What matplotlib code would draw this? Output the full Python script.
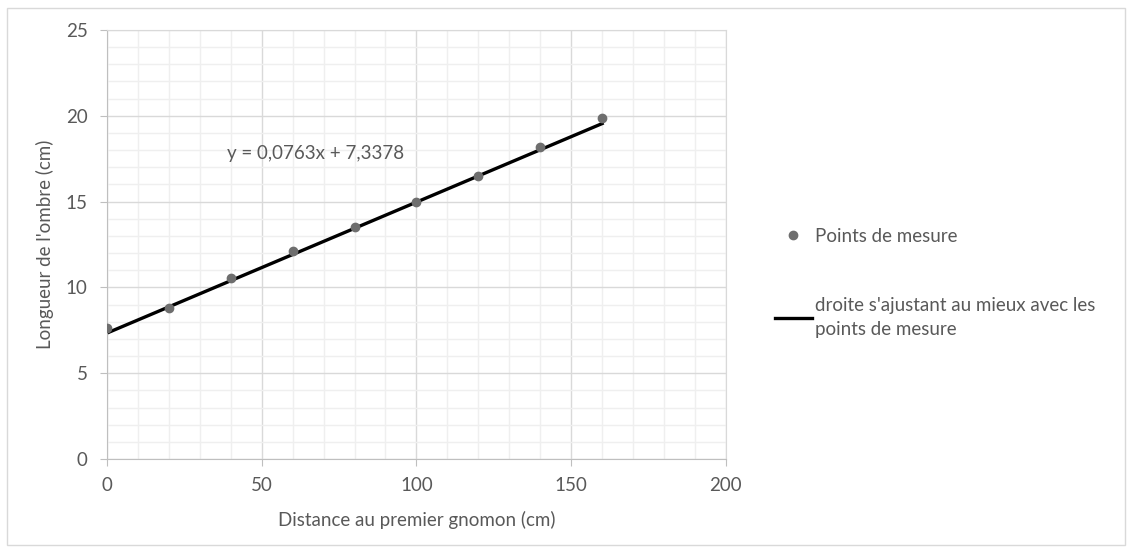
import numpy as np
import matplotlib.pyplot as plt
from matplotlib.patches import Rectangle
from matplotlib.ticker import MultipleLocator

plt.rcParams['font.family'] = ['Lato', 'DejaVu Sans']

# measurements
distance = [0, 20, 40, 60, 80, 100, 120, 140, 160]
ombre = [7.65, 8.82, 10.53, 12.14, 13.5, 15.0, 16.49, 18.2, 19.89]

# fit shown on the chart
pente = 0.0763
origine = 7.3378
equation = "y = 0,0763x + 7,3378"

grey = "#595959"
fs = 13.5

fig = plt.figure(figsize=(11.33, 5.53), dpi=100)
ax = fig.add_axes([0.0944, 0.170, 0.5463, 0.7758])

xfit = np.array([distance[0], distance[-1]])
ax.plot(distance, ombre, "o", color="#6e6e6e", markersize=6, label="Points de mesure", zorder=3)
ax.plot(xfit, pente * xfit + origine, color="black", lw=2.4,
        label="droite s'ajustant au mieux avec les\npoints de mesure", zorder=2)

ax.set_xlim(0, 200)
ax.set_ylim(0, 25)
ax.xaxis.set_major_locator(MultipleLocator(50))
ax.xaxis.set_minor_locator(MultipleLocator(10))
ax.yaxis.set_major_locator(MultipleLocator(5))
ax.yaxis.set_minor_locator(MultipleLocator(1))
ax.grid(which="major", color="#d9d9d9", lw=1)
ax.grid(which="minor", color="#efefef", lw=1)
ax.set_axisbelow(True)
for s in ax.spines.values():
    s.set_color("#d9d9d9")
ax.spines["left"].set_color("#bfbfbf")
ax.spines["bottom"].set_color("#bfbfbf")
ax.tick_params(which="major", colors="#bfbfbf", labelcolor=grey, labelsize=fs, length=5)
ax.tick_params(axis="x", pad=8)
ax.tick_params(axis="y", pad=9)
ax.tick_params(which="minor", length=0)

ax.set_xlabel("Distance au premier gnomon (cm)", color=grey, fontsize=fs, labelpad=12)
ax.set_ylabel("Longueur de l'ombre (cm)", color=grey, fontsize=fs, labelpad=8)

ax.text(38.8, 17.82, equation, color=grey, fontsize=fs, va="center", ha="left")

leg = ax.legend(loc="upper left", bbox_to_anchor=(1.079, 0.539), frameon=False,
                fontsize=fs, labelcolor=grey, handlelength=1.97, handletextpad=0.16,
                labelspacing=2.8, borderpad=0, borderaxespad=0)
for t in leg.get_texts():
    t.set_linespacing(1.45)

fig.patches.append(Rectangle((0.006, 0.014), 0.987, 0.972, transform=fig.transFigure,
                             fill=False, edgecolor="#d9d9d9", lw=1))

fig.savefig("out.png", dpi=100)
